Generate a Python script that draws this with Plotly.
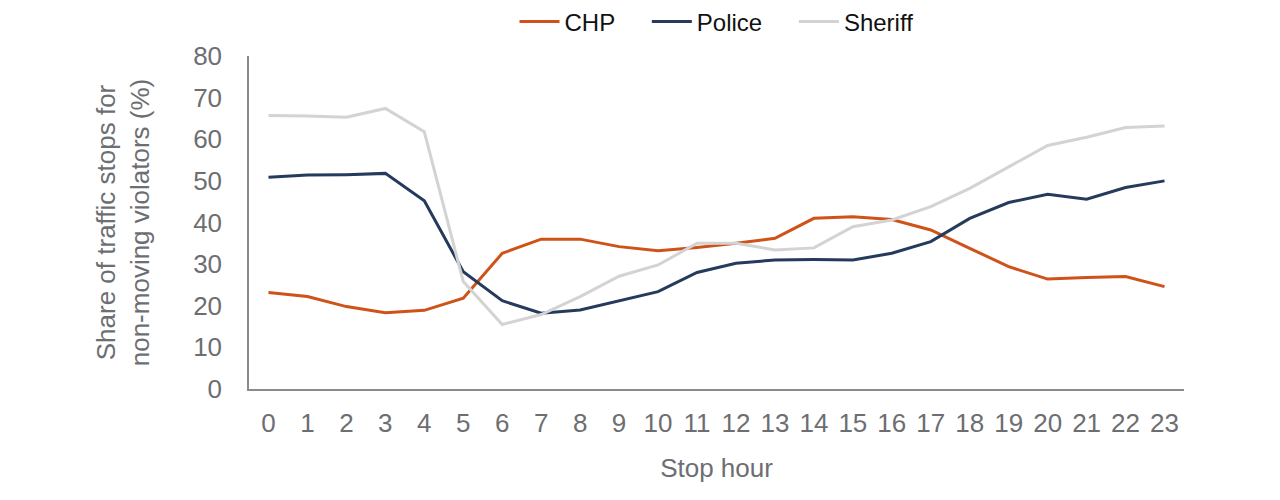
import plotly.graph_objects as go

hours = list(range(24))
chp = [23.2, 22.2, 19.8, 18.3, 18.9, 21.8, 32.6, 36.0, 36.0, 34.2, 33.2, 34.0,
       35.0, 36.2, 41.0, 41.4, 40.7, 38.2, 33.8, 29.4, 26.4, 26.8, 27.0, 24.6]
police = [50.9, 51.4, 51.5, 51.8, 45.2, 28.2, 21.2, 18.2, 19.0, 21.2, 23.4, 28.0,
          30.2, 31.0, 31.1, 31.0, 32.6, 35.4, 41.0, 44.8, 46.8, 45.6, 48.4, 50.0]
sheriff = [65.7, 65.6, 65.3, 67.4, 61.8, 25.8, 15.5, 17.9, 22.2, 27.1, 29.8, 35.0,
           35.0, 33.4, 33.9, 39.0, 40.6, 43.8, 48.2, 53.4, 58.5, 60.5, 62.8, 63.2]

series = [("CHP", chp, "#cf5219"), ("Police", police, "#253a5c"), ("Sheriff", sheriff, "#d3d3d3")]

fig = go.Figure()
for i, (name, vals, col) in enumerate(series):
    pad = "\u00a0" * 4 if i < len(series) - 1 else ""
    fig.add_trace(go.Scatter(x=hours, y=vals, mode="lines", name=name + pad,
                             line=dict(color=col, width=3)))

gray = "#6d6e71"
fig.update_layout(
    width=1280, height=500,
    margin=dict(l=249, r=96, t=56, b=111, autoexpand=False),
    paper_bgcolor="white", plot_bgcolor="white",
    font=dict(family="Liberation Sans, Arial, sans-serif", size=26, color=gray),
    legend=dict(orientation="h", x=0.5, xanchor="center", xref="paper",
                y=1 - 22 / 500, yanchor="middle", yref="container",
                font=dict(size=24, color="#111111"), itemwidth=40,
                traceorder="normal", tracegroupgap=0),
    xaxis=dict(range=[-0.5, 23.5], tickmode="array", tickvals=hours,
               ticktext=[str(h) for h in hours], showgrid=False, zeroline=False,
               showline=True, linecolor="#8a8a8a", linewidth=1.5, ticks="",
               ticklabelstandoff=10,
               title=dict(text="Stop hour", font=dict(size=26, color=gray), standoff=22)),
    yaxis=dict(range=[0, 80], dtick=10, showgrid=False, zeroline=False,
               showline=True, linecolor="#8a8a8a", linewidth=1.5, ticks="",
               ticklabelstandoff=20,
               title=dict(text="Share of traffic stops for<br>non-moving violators (%)",
                          font=dict(size=26, color=gray), standoff=36)),
)

fig.write_html("out.html")
